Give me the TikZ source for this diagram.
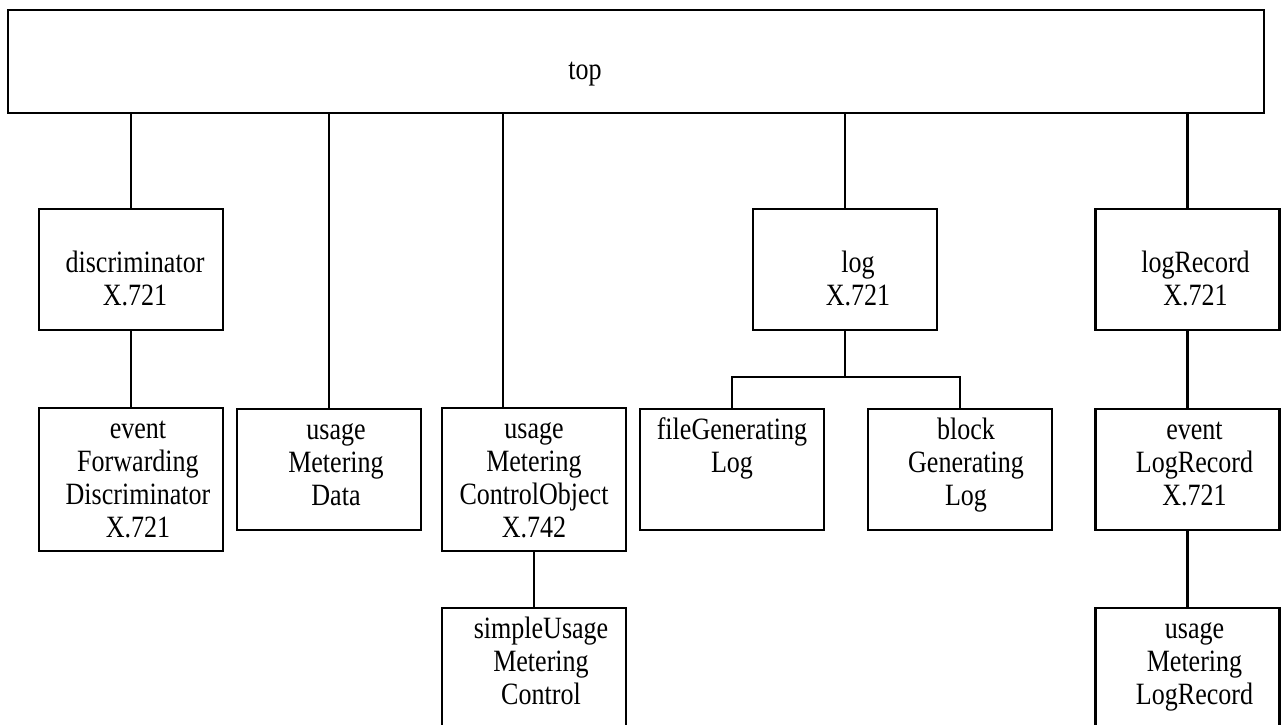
\documentclass[tikz,border=0pt]{standalone}
\usepackage{fontspec}
\setmainfont{Liberation Serif}[FakeStretch=0.84]
\newcommand{\objlines}[3][0pt]{\parbox[c][#2][t]{184pt}{\centering\leftskip=#1 plus 1fil\relax\vspace*{7pt}\strut#3}}
\tikzset{
  objbox/.style={draw, line width=2.4pt, inner sep=0pt, font=\fontsize{31}{33}\selectfont},
  conn/.style={line width=2.2pt},
}
\begin{document}
\begin{tikzpicture}[x=1pt, y=-1pt]
            \useasboundingbox (0,0) rectangle (1287,724);
            \node[objbox](1) at (636, 61.5) {\parbox[c][103pt][t]{1256pt}{\centering\vspace*{46pt}\strut top\hspace*{102pt}}};
            \node[objbox](2) at (131, 269.5) {\objlines[8pt]{121pt}{\\discriminator\\X.721}};
            \node[objbox](3) at (131, 479.5) {\objlines[14pt]{143pt}{event\\Forwarding\\Discriminator\\X.721}};
            \path[conn] (2.north) edge (2.north |- 1.south) (2) edge (3);
            \node[objbox](4) at (329, 469.5) {\objlines[14pt]{121pt}{usage\\Metering\\Data}};
            \path[conn] (4.north) edge (4.north |- 1.south);
            \node[objbox](5) at (534, 479.5) {\objlines{143pt}{usage\\Metering\\ControlObject\\X.742}};
            \node[objbox](6) at (534, 674) {\objlines[14pt]{132pt}{simpleUsage\\Metering\\Control}};
            \path[conn] ([xshift=-31pt]5.north) edge ([xshift=-31pt]5.north |- 1.south) (5) edge (6);
            \node[objbox](7) at (845, 269.5) {\objlines[26pt]{121pt}{\\log\\X.721}};
            \node[objbox](8) at (732, 469.5) {\objlines{121pt}{fileGenerating\\Log}};
            \node[objbox](9) at (960, 469.5) {\objlines[12pt]{121pt}{block\\Generating\\Log}};
            \coordinate(j) at (845, 377);
            \path[conn] (7.north) edge (7.north |- 1.south);
            \draw[conn] (7.south) -- (j) (8.north) |- (j) (9.north) |- (j);
            \node[objbox](10) at (1187.5, 269.5) {\objlines[16pt]{121pt}{\\logRecord\\X.721}};
            \node[objbox](11) at (1187.5, 469.5) {\objlines[14pt]{121pt}{event\\LogRecord\\X.721}};
            \node[objbox](12) at (1187.5, 674) {\objlines[14pt]{132pt}{usage\\Metering\\LogRecord}};
            \path[conn] (10.north) edge (10.north |- 1.south) (10) edge (11) (11) edge (12);
        \end{tikzpicture}
\end{document}
